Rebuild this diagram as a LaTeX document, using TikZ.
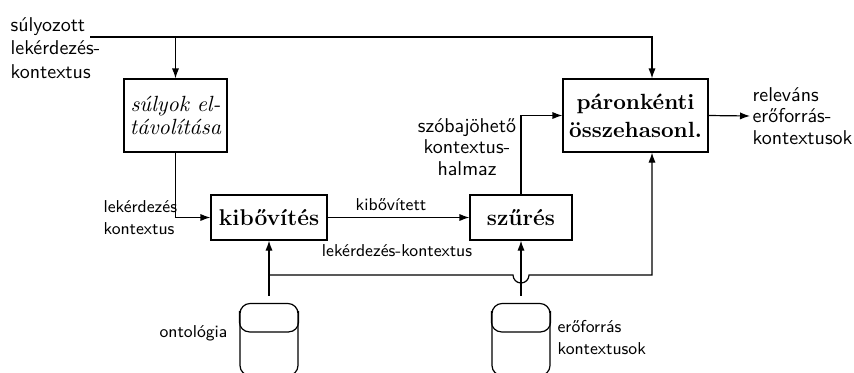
\documentclass[tikz,border=0pt]{standalone}
\usepackage{fontspec}
\setmainfont{Latin Modern Roman}
\setsansfont{Latin Modern Sans}
\usetikzlibrary{arrows.meta}

\begin{document}
\begin{tikzpicture}[x=0.5pt,y=-0.5pt,line width=0.6pt,
  proc/.style={draw,inner sep=0pt,align=center,font=\fontsize{11}{14}\selectfont\bfseries},
  store/.style={draw,rounded corners=5pt,minimum width=29pt,minimum height=36pt,inner sep=0pt},
  lbl/.style={inner sep=0pt,font=\sffamily\fontsize{10}{11}\selectfont},
  small/.style={inner sep=0pt,font=\sffamily\fontsize{8.6}{11}\selectfont},
  arr/.style={-{Latex[length=5pt,width=3.6pt]}}]

\useasboundingbox (0,0) rectangle (854,372);

% processing steps
\node[proc,minimum width=51.5pt,minimum height=36.5pt,
      font=\fontsize{11}{11.5}\selectfont\itshape] (sw) at (175.5,115.5) {súlyok el-\\távolítása};
\node[proc,minimum width=58pt,minimum height=22.5pt,
      font=\fontsize{11.4}{14}\selectfont\bfseries] (kib) at (269,217.5) {kibővítés};
\node[proc,minimum width=51pt,minimum height=22.5pt,
      font=\fontsize{11.4}{14}\selectfont\bfseries] (szu) at (521,217.5) {szűrés};
\node[proc,minimum width=72.5pt,minimum height=36.5pt] (par) at (635.5,115.5) {páronkénti\\összehasonl.};

% data stores
\node[store] (ont) at (269,339.5) {};
\node[store] (res) at (521,339.5) {};
\draw[rounded corners=5pt] ([yshift=-4pt]ont.north west) -- ([yshift=-14.5pt]ont.north west)
  -- ([yshift=-14.5pt]ont.north east) -- ([yshift=-4pt]ont.north east);
\draw[rounded corners=5pt] ([yshift=-4pt]res.north west) -- ([yshift=-14.5pt]res.north west)
  -- ([yshift=-14.5pt]res.north east) -- ([yshift=-4pt]res.north east);

% free ends and branch points
\coordinate (in) at (90,37);
\coordinate (tapR) at (652,37);
\coordinate (out) at (750,116);
\coordinate (busL) at (269,275);
\coordinate (busR) at (652,275);

% connectors
\draw[arr] (in) -- (tapR) -- (tapR |- par.north);
\draw[arr] (sw.north |- in) -- (sw.north);
\draw[arr] (sw.south) |- (kib.west);
\draw[arr] (kib.east) -- (szu.west);
\draw[arr] (szu.north) |- (par.west);
\draw[arr] (par.east) -- (out);
\draw[arr] ([yshift=3.5pt]ont.north) -- (kib.south);
\draw[arr] ([yshift=3.5pt]res.north) -- (szu.south);
\draw[arr] (busL) -- (513,275) arc[start angle=180,end angle=360,radius=4pt]
  -- (busR) -- (busR |- par.south);

% labels
\node[lbl,anchor=west,align=left,font=\sffamily\fontsize{10}{11.75}\selectfont]
  (lin) at (10,48) {súlyozott\\lekérdezés-\\kontextus};
\node[small,anchor=west,align=left] (lq) at (103,218) {lekérdezés\\kontextus};
\node[small] (lk1) at (391,205) {kibővített};
\node[small] (lk2) at (397,251) {lekérdezés-kontextus};
\node[lbl,align=center,font=\sffamily\fontsize{10}{10.75}\selectfont]
  (lsz) at (467,147) {szóbajöhető\\kontextus-\\halmaz};
\node[lbl,anchor=west,align=left,font=\sffamily\fontsize{10}{10.75}\selectfont]
  (lout) at (752,116) {releváns\\erőforrás-\\kontextusok};
\node[small,anchor=east] (lont) at (228,333) {ontológia};
\node[small,anchor=west,align=left] (lres) at (557,338) {erőforrás\\kontextusok};
\end{tikzpicture}
\end{document}
